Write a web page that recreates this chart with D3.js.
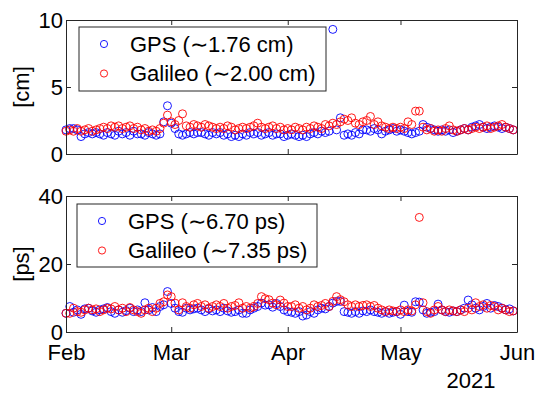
<!DOCTYPE html>
<html>
<head>
<meta charset="utf-8">
<script src="https://cdn.jsdelivr.net/npm/d3@7"></script>
<style>
  body { margin: 0; background: #fff; }
  text { font-family: "Liberation Sans", Arial, Helvetica, sans-serif; fill: #000; }
</style>
</head>
<body>
<div id="chart"></div>
<script>
// daily values, Feb 1 .. May 31 2021
var startDate = new Date(2021, 1, 1);
var endDate = new Date(2021, 5, 1);
var monthTicks = ["Feb", "Mar", "Apr", "May", "Jun"];
var yearLabel = "2021";

var gpsCm = [
  1.8, 1.9, 1.9, 1.8, 1.3, 1.5, 1.6, 1.5, 1.6, 1.5,
  1.4, 1.6, 1.5, 1.4, 1.7, 1.5, 1.6, 1.4, 1.7, 1.5,
  1.5, 1.4, 1.6, 1.5, 1.4, 1.5, 2.4, 3.6, 2.3, 1.9,
  1.5, 1.4, 1.5, 1.6, 1.5, 1.6, 1.6, 1.5, 1.4, 1.6,
  1.5, 1.6, 1.4, 1.5, 1.3, 1.4, 1.3, 1.5, 1.4, 1.6,
  1.5, 1.6, 1.4, 1.5, 1.6, 1.4, 1.5, 1.5, 1.3, 1.4,
  1.5, 1.4, 1.3, 1.4, 1.3, 1.5, 1.6, 1.5, 1.7, 1.6,
  1.7, 9.3, 1.8, 2.7, 1.4, 1.5, 1.4, 1.6, 1.5, 1.8,
  1.8, 1.7, 1.9, 1.8, 1.5, 1.7, 1.8, 1.9, 1.7, 1.8,
  1.7, 1.6, 1.5, 1.6, 1.7, 2.2, 2.0, 1.9, 1.8, 1.7,
  1.8, 1.7, 1.8, 1.6, 1.7, 1.8, 1.9, 1.8, 2.0, 2.1,
  2.2, 2.0, 1.9, 2.0, 2.1, 2.0, 1.9, 2.0, 1.9, 1.8
];
var galileoCm = [
  1.7, 1.8, 1.7, 1.9, 1.7, 1.8, 1.9, 1.7, 1.8, 1.9,
  2.0, 1.9, 2.1, 2.0, 2.1, 1.9, 2.0, 2.1, 1.9, 2.0,
  1.8, 1.9, 1.7, 1.8, 1.7, 1.9, 2.3, 2.9, 2.4, 2.2,
  2.5, 3.0, 2.1, 2.0, 2.2, 2.1, 2.0, 2.2, 2.1, 2.0,
  1.9, 2.0, 1.9, 2.1, 2.0, 1.8, 1.9, 2.0, 1.9, 2.0,
  2.1, 2.3, 2.0, 1.9, 2.0, 2.1, 1.9, 2.0, 1.8, 1.9,
  1.8, 2.0, 1.9, 1.8, 2.0, 1.9, 2.1, 2.0, 1.9, 2.2,
  2.1, 2.3, 2.2, 2.4, 2.6, 2.5, 2.7, 2.3, 2.2, 2.4,
  2.5, 2.8, 2.2, 2.4, 2.1, 2.0, 1.9, 2.0, 1.9, 2.0,
  1.9, 2.4, 2.2, 3.2, 3.2, 2.0, 1.8, 1.9, 1.7, 1.8,
  1.7, 1.9, 2.1, 1.8, 1.7, 1.8, 1.9, 1.8, 1.9, 2.0,
  1.9, 2.0, 2.1, 1.9, 2.0, 2.1, 2.2, 2.0, 1.9, 1.8
];
var gpsPs = [
  5.5, 7.5, 5.8, 6.5, 5.2, 6.8, 7.0, 6.2, 5.8, 6.5,
  6.8, 7.2, 6.0, 5.5, 6.5, 5.8, 6.3, 7.0, 6.0, 6.5,
  6.0, 8.6, 6.5, 7.2, 6.0, 7.5, 8.0, 11.9, 8.4, 7.0,
  6.0, 5.8, 7.0, 6.5, 6.8, 7.0, 6.5, 6.0, 6.8, 6.2,
  6.5, 6.0, 7.0, 6.2, 5.8, 6.0, 6.5, 5.5, 5.5, 6.5,
  7.0, 7.5, 8.5, 7.9, 8.0, 7.3, 8.4, 7.5, 6.5, 6.0,
  5.8, 5.5, 6.0, 4.7, 5.0, 6.0, 5.5, 6.5, 7.0, 6.8,
  7.5, 8.5, 9.0, 9.0, 6.0, 5.8, 5.5, 6.0, 5.5, 6.2,
  6.0, 6.5, 6.0, 5.8, 5.5, 6.0, 5.5, 5.8, 6.0, 5.2,
  7.9, 6.0, 5.8, 8.9, 8.8, 6.5, 5.5, 5.8, 6.0, 8.2,
  6.5, 6.0, 5.8, 6.2, 6.0, 6.5, 7.0, 9.4, 8.0, 7.0,
  6.5, 7.5, 8.4, 7.0, 7.8, 7.5, 7.0, 6.5, 6.8, 6.2
];
var galileoPs = [
  5.5, 5.5, 7.0, 6.0, 5.8, 6.5, 7.0, 6.5, 6.8, 6.0,
  6.5, 7.0, 6.8, 7.5, 6.5, 7.0, 6.0, 7.2, 6.5, 6.0,
  5.5, 6.5, 7.0, 6.0, 7.0, 8.4, 8.9, 10.9, 10.4, 8.5,
  6.5, 8.6, 7.5, 7.0, 8.0, 8.4, 7.5, 8.0, 7.0, 7.5,
  8.0, 7.5, 8.4, 7.0, 7.5, 7.8, 8.6, 7.0, 7.5, 7.0,
  7.5, 8.4, 10.4, 9.8, 9.5, 8.5, 8.0, 9.4, 8.5, 7.5,
  7.5, 8.0, 7.0, 7.5, 6.5, 7.0, 8.0, 7.5, 7.8, 8.4,
  7.5, 9.0, 10.4, 9.5, 8.9, 8.0, 7.5, 8.0, 7.5, 7.8,
  8.0, 7.5, 7.8, 7.0, 6.5, 6.0, 6.5, 6.2, 6.0, 6.5,
  6.0, 6.5, 6.2, 8.0, 33.7, 8.6, 6.0, 5.5, 6.5, 7.5,
  6.5, 6.0, 6.5, 6.2, 6.0, 6.5, 6.0, 7.0, 6.5, 8.6,
  7.5, 8.0, 7.0, 7.8, 7.5, 6.5, 7.0, 6.5, 6.0, 6.2
];

var W = 535, H = 393;
var left = 66, right = 517;
var fs = "22px";

var svg = d3.select("#chart").append("svg")
  .attr("width", W).attr("height", H);

var x = d3.scaleTime().domain([startDate, endDate]).range([left, right]);
var monthDates = monthTicks.map(function(m, i) { return new Date(2021, 1 + i, 1); });

function panel(top, bottom, yMax, yTicks, ylab, gps, gal, legendRows, box, showMonths) {
  var y = d3.scaleLinear().domain([0, yMax]).range([bottom, top]);
  var g = svg.append("g");

  function pts(vals, color) {
    g.append("g").selectAll("circle")
      .data(vals)
      .enter().append("circle")
      .attr("cx", function(d, i) { return x(d3.timeDay.offset(startDate, i)); })
      .attr("cy", function(d) { return y(d); })
      .attr("r", 4)
      .style("fill", "none")
      .style("stroke", color)
      .style("stroke-width", 0.9);
  }
  pts(gps, "#0000ff");
  pts(gal, "#ff0000");

  // axes: ticks inward, mirrored on top / right
  var fmt = showMonths ? function(d, i) { return monthTicks[i]; } : "";
  var xb = g.append("g").attr("transform", "translate(0," + bottom + ")")
    .call(d3.axisBottom(x).tickValues(monthDates).tickSizeInner(-5).tickSizeOuter(0).tickFormat(fmt));
  xb.selectAll(".tick text").attr("y", 12);
  g.append("g").attr("transform", "translate(0," + top + ")")
    .call(d3.axisTop(x).tickValues(monthDates).tickSizeInner(-5).tickSizeOuter(0).tickFormat(""));
  var yl = g.append("g").attr("transform", "translate(" + left + ",0)")
    .call(d3.axisLeft(y).tickValues(yTicks).tickSizeInner(-5).tickSizeOuter(0));
  yl.selectAll(".tick text").attr("x", -3);
  g.append("g").attr("transform", "translate(" + right + ",0)")
    .call(d3.axisRight(y).tickValues(yTicks).tickSizeInner(-5).tickSizeOuter(0).tickFormat(""));

  g.selectAll(".domain, .tick line").attr("stroke", "#262626").attr("stroke-width", 1);
  g.selectAll(".tick text").style("font-size", fs).attr("fill", "#000");

  g.append("text")
    .attr("transform", "translate(21," + ((top + bottom) / 2) + ") rotate(-90)")
    .attr("text-anchor", "middle")
    .attr("dy", "0.35em")
    .style("font-size", fs)
    .text(ylab);

  // legend
  g.append("rect")
    .attr("x", box[0]).attr("y", box[1])
    .attr("width", box[2]).attr("height", box[3])
    .style("fill", "#fff").style("stroke", "#262626").style("stroke-width", 1);
  legendRows.forEach(function(r, i) {
    var cy = box[1] + 17 + i * 29.5;
    g.append("circle").attr("cx", box[0] + 25).attr("cy", cy).attr("r", 3.6)
      .style("fill", "none").style("stroke", r.color).style("stroke-width", 0.9);
    g.append("text").attr("x", box[0] + 51).attr("y", cy).attr("dy", "0.35em")
      .style("font-size", fs).text(r.label);
  });
  return g;
}

panel(20, 154, 10, [0, 5, 10], "[cm]", gpsCm, galileoCm,
  [{ label: "GPS (\u223C1.76 cm)", color: "#0000ff" },
   { label: "Galileo (\u223C2.00 cm)", color: "#ff0000" }],
  [79, 27, 247, 64], false);

panel(196, 332, 40, [0, 20, 40], "[ps]", gpsPs, galileoPs,
  [{ label: "GPS (\u223C6.70 ps)", color: "#0000ff" },
   { label: "Galileo (\u223C7.35 ps)", color: "#ff0000" }],
  [77, 204, 240, 63], true);

svg.append("text")
  .attr("x", 471).attr("y", 388)
  .attr("text-anchor", "middle")
  .style("font-size", fs)
  .text(yearLabel);
</script>
</body>
</html>
